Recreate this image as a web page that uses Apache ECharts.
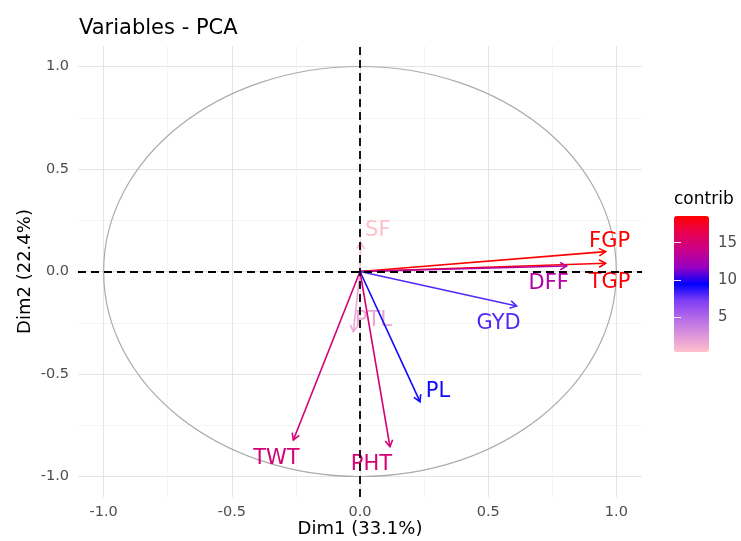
<!DOCTYPE html>
<html><head><meta charset="utf-8">
<script src="https://cdn.jsdelivr.net/npm/echarts@6/dist/echarts.min.js"></script>
<style>html,body{margin:0;padding:0;background:#fff}#chart{width:741px;height:541px}</style>
</head><body><div id="chart"></div>
<script>
// ---- data ----
const variables = ['FGP', 'TGP', 'DFF', 'GYD', 'SF', 'PTL', 'PL', 'TWT', 'PHT'];
const dim1 = [0.958, 0.958, 0.806, 0.611, 0.003, -0.026, 0.234, -0.260, 0.117];
const dim2 = [0.097, 0.040, 0.027, -0.168, 0.143, -0.294, -0.635, -0.822, -0.855];
const contrib = [18.56, 18.40, 13.0, 8.0, 0.41, 1.74, 9.2, 14.9, 14.9];
const axisTicks = [-1.0, -0.5, 0.0, 0.5, 1.0];
const minorTicks = [-0.75, -0.25, 0.25, 0.75];
const legendTicks = [5, 10, 15];
const circleRadius = 1;
const titleText = 'Variables - PCA';
const dim1Title = 'Dim1 (33.1%)';
const dim2Title = 'Dim2 (22.4%)';
const legendTitle = 'contrib';

// ---- layout / style ----
const labelOffsets = [[4,-10],[4,19],[-18,17.5],[-18,18],[17,-12],[20,-11],[18,-10],[-17,19],[-18.5,18]];
const gradient = ['#FFC0CB','#DD95DA','#B46AE8','#813EF4','#0000FF','#9A00C2','#C90089','#E80050','#FF0000'];
const FONT = '"DejaVu Sans", sans-serif';
const cMin = Math.min(...contrib), cMax = Math.max(...contrib);

const gridLines = [];
axisTicks.forEach(v => {
  gridLines.push({xAxis: v, lineStyle: {color: '#E5E5E5', width: 1.1, type: 'solid'}});
  gridLines.push({yAxis: v, lineStyle: {color: '#E5E5E5', width: 1.1, type: 'solid'}});
});
minorTicks.forEach(v => {
  gridLines.push({xAxis: v, lineStyle: {color: '#EFEFEF', width: 0.7, type: 'solid'}});
  gridLines.push({yAxis: v, lineStyle: {color: '#EFEFEF', width: 0.7, type: 'solid'}});
});

const chart = echarts.init(document.getElementById('chart'));
chart.setOption({
  animation: false,
  backgroundColor: '#fff',
  textStyle: {fontFamily: FONT},
  title: [
    {text: titleText, left: 79, top: 18, padding: 0,
     textStyle: {fontSize: 21, fontWeight: 'normal', color: '#000', fontFamily: FONT}},
    {text: legendTitle, left: 674, top: 191, padding: 0,
     textStyle: {fontSize: 17, fontWeight: 'normal', color: '#000', fontFamily: FONT}}
  ],
  grid: [
    {left: 78, top: 46, width: 564, height: 451, containLabel: false, outerBoundsMode: 'none'},
    {left: 674, top: 216, width: 35, height: 136, containLabel: false, outerBoundsMode: 'none'}
  ],
  xAxis: [
    {type: 'value', gridIndex: 0, min: -1.1, max: 1.1,
     axisLine: {show: false},
     axisTick: {show: true, length: 4, customValues: axisTicks, lineStyle: {color: '#333', width: 1}},
     axisLabel: {customValues: axisTicks, formatter: v => v.toFixed(1), color: '#4D4D4D', fontSize: 14.5, margin: 8, fontFamily: FONT},
     splitLine: {show: false},
     name: dim1Title, nameLocation: 'middle', nameGap: 23, nameMoveOverlap: false,
     nameTextStyle: {color: '#000', fontSize: 18, fontFamily: FONT}},
    {type: 'value', gridIndex: 1, min: 0, max: 1, show: false}
  ],
  yAxis: [
    {type: 'value', gridIndex: 0, min: -1.1, max: 1.1,
     axisLine: {show: false},
     axisTick: {show: true, length: 5, customValues: axisTicks, lineStyle: {color: '#333', width: 1}},
     axisLabel: {customValues: axisTicks, formatter: v => v.toFixed(1), color: '#4D4D4D', fontSize: 14.5, margin: 9, fontFamily: FONT},
     splitLine: {show: false},
     name: dim2Title, nameLocation: 'middle', nameGap: 44, nameMoveOverlap: false,
     nameTextStyle: {color: '#000', fontSize: 18, fontFamily: FONT}},
    {type: 'value', gridIndex: 1, min: cMin, max: cMax, position: 'right', z: 10,
     axisLine: {show: false},
     axisTick: {show: true, inside: true, length: 7, customValues: legendTicks, lineStyle: {color: 'rgba(255,255,255,0.9)', width: 1}},
     axisLabel: {customValues: legendTicks, color: '#4D4D4D', fontSize: 15, margin: 9, fontFamily: FONT},
     splitLine: {show: false}},
    {type: 'value', gridIndex: 1, min: cMin, max: cMax, position: 'left', z: 10,
     axisLine: {show: false},
     axisTick: {show: true, inside: true, length: 7, customValues: legendTicks, lineStyle: {color: 'rgba(255,255,255,0.9)', width: 1}},
     axisLabel: {show: false},
     splitLine: {show: false}}
  ],
  visualMap: {
    type: 'continuous', seriesIndex: 2, dimension: 2,
    min: cMin, max: cMax, calculable: false, hoverLink: false,
    left: 674, top: 216, itemWidth: 35, itemHeight: 136, padding: 0,
    inRange: {color: gradient}
  },
  series: [
    {type: 'line', xAxisIndex: 0, yAxisIndex: 0, data: [[0, 0]], showSymbol: false, silent: true,
     lineStyle: {opacity: 0}, z: 1,
     markLine: {silent: true, symbol: ['none', 'none'], label: {show: false}, z: 1, animation: false, data: gridLines}},
    {type: 'custom', xAxisIndex: 0, yAxisIndex: 0, z: 2, silent: true,
     data: [[0, 0, circleRadius]],
     renderItem: (params, api) => {
       const c = api.coord([api.value(0), api.value(1)]);
       const r = api.value(2);
       const rx = api.size([r, 0])[0], ry = api.size([0, r])[1];
       return {type: 'ellipse', shape: {cx: c[0], cy: c[1], rx: rx, ry: ry},
               style: {fill: 'none', stroke: '#ABABAB', lineWidth: 1.2}};
     }},
    {type: 'custom', xAxisIndex: 0, yAxisIndex: 0, z: 3, silent: true,
     data: variables.map((n, i) => [dim1[i], dim2[i], contrib[i], i]),
     encode: {x: 0, y: 1},
     renderItem: (params, api) => {
       const i = api.value(3);
       const o = api.coord([0, 0]);
       const t = api.coord([api.value(0), api.value(1)]);
       const color = api.visual('color');
       const ang = Math.atan2(t[1] - o[1], t[0] - o[0]);
       const L = 7.5, a = Math.PI / 6;
       const p1 = [t[0] - L * Math.cos(ang - a), t[1] - L * Math.sin(ang - a)];
       const p2 = [t[0] - L * Math.cos(ang + a), t[1] - L * Math.sin(ang + a)];
       const off = labelOffsets[i];
       return {type: 'group', children: [
         {type: 'line', shape: {x1: o[0], y1: o[1], x2: t[0], y2: t[1]}, style: {stroke: color, lineWidth: 1.6}},
         {type: 'polyline', shape: {points: [p1, t, p2]}, style: {stroke: color, lineWidth: 1.6, fill: null}},
         {type: 'text', x: t[0] + off[0], y: t[1] + off[1],
          style: {text: variables[i], fill: color, fontSize: 21, fontFamily: FONT, align: 'center', verticalAlign: 'middle'}}
       ]};
     }},
    {type: 'line', xAxisIndex: 0, yAxisIndex: 0, data: [[0, 0]], showSymbol: false, silent: true,
     lineStyle: {opacity: 0}, z: 10,
     markLine: {silent: true, symbol: ['none', 'none'], label: {show: false}, z: 10, animation: false,
       lineStyle: {color: '#000', type: [8, 5], width: 1.8},
       data: [{xAxis: 0}, {yAxis: 0}]}},
    {type: 'scatter', xAxisIndex: 1, yAxisIndex: 1, data: []}
  ]
});
</script></body></html>
